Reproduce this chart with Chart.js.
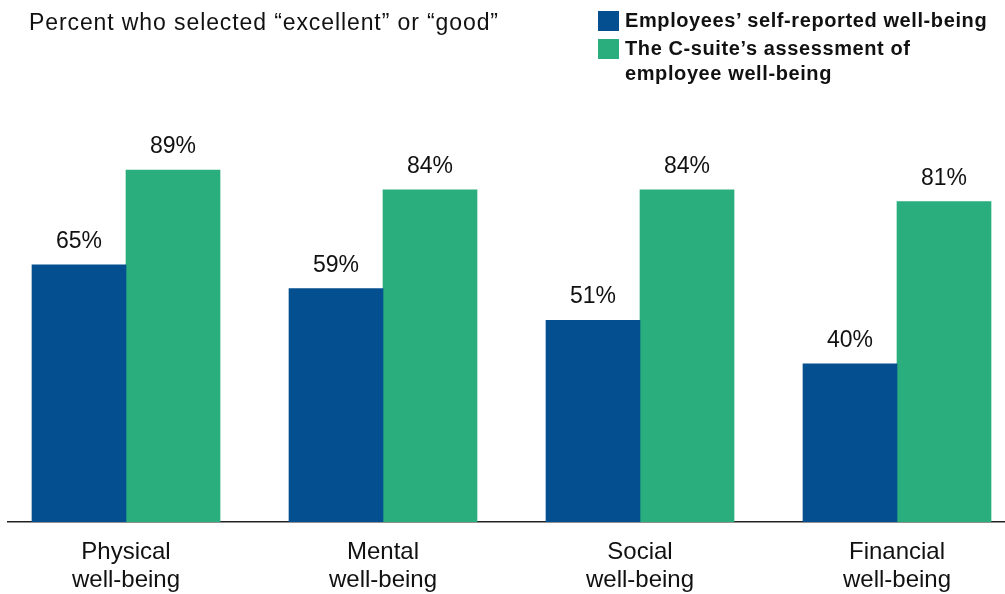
<!DOCTYPE html>
<html>
<head>
<meta charset="utf-8">
<script src="https://cdn.jsdelivr.net/npm/chart.js@4"></script>
<style>
  body { margin: 0; background: #fff; font-family: "Liberation Sans", Arial, sans-serif; }
  #wrap { position: relative; width: 1005px; height: 594px; overflow: hidden; }
  #title { position: absolute; left: 29px; top: 9px; font-size: 23px; letter-spacing: 0.9px; color: #111; white-space: nowrap; }
  #legend { position: absolute; left: 598px; top: 8px; font-size: 20px; letter-spacing: 0.6px; font-weight: bold; color: #111; line-height: 25px; }
  .item { position: relative; padding-left: 27px; margin-bottom: 3px; white-space: nowrap; }
  .sw { position: absolute; left: 0; top: 3px; width: 21px; height: 20px; }
</style>
</head>
<body>
<div id="wrap">
  <canvas id="wellbeing" width="1005" height="594"></canvas>
  <div id="title">Percent who selected “excellent” or “good”</div>
  <div id="legend"></div>
</div>
<script>
const categories = [["Physical", "well-being"], ["Mental", "well-being"], ["Social", "well-being"], ["Financial", "well-being"]];
const seriesNames = ["Employees’ self-reported well-being", "The C-suite’s assessment of\nemployee well-being"];
const employees = [65, 59, 51, 40];
const csuite = [89, 84, 84, 81];
const colors = ['#034f8f', '#2aae7d'];

// html legend
const legendBox = document.getElementById('legend');
seriesNames.forEach((name, i) => {
  const div = document.createElement('div');
  div.className = 'item';
  div.innerHTML = '<span class="sw" style="background:' + colors[i] + '"></span>' + name.replace('\n', '<br>');
  legendBox.appendChild(div);
});

const valueLabels = {
  id: 'valueLabels',
  afterDatasetsDraw(chart) {
    const ctx = chart.ctx;
    ctx.save();
    ctx.font = '23px "Liberation Sans", Arial, sans-serif';
    ctx.fillStyle = '#111';
    ctx.textAlign = 'center';
    ctx.textBaseline = 'alphabetic';
    chart.data.datasets.forEach((ds, i) => {
      chart.getDatasetMeta(i).data.forEach((bar, j) => {
        ctx.fillText(ds.data[j].y + '%', bar.x, bar.y - 17);
      });
    });
    ctx.restore();
  }
};

const ctx = document.getElementById('wellbeing').getContext('2d');

const chart = new Chart(ctx, {
  type: 'bar',
  data: {
    datasets: [{
      label: seriesNames[0],
      data: employees.map((v, i) => ({ x: i, y: v })),
      backgroundColor: colors[0],
      barThickness: 94
    }, {
      label: seriesNames[1],
      data: csuite.map((v, i) => ({ x: i, y: v })),
      backgroundColor: colors[1],
      barThickness: 94
    }]
  },
  options: {
    responsive: false,
    animation: false,
    layout: {
      padding: { left: 8, right: 0, top: 126.5, bottom: 0 }
    },
    scales: {
      x: {
        type: 'linear',
        offset: false,
        min: -118 / 257,
        max: 3 + 108 / 257,
        grid: { display: false, drawTicks: false, offset: false },
        border: { display: true, color: '#222', width: 1.5 },
        afterBuildTicks: (scale) => {
          scale.ticks = categories.map((c, i) => ({ value: i }));
        },
        afterFit: (scale) => { scale.height = 72; },
        ticks: {
          padding: 16,
          autoSkip: false,
          maxRotation: 0,
          color: '#111',
          font: { family: '"Liberation Sans", Arial, sans-serif', size: 24, lineHeight: 1.17 },
          callback: (v) => categories[v]
        }
      },
      y: {
        display: false,
        min: 0,
        max: 100
      }
    },
    plugins: {
      legend: { display: false },
      tooltip: { enabled: false }
    }
  },
  plugins: [valueLabels]
});
</script>
</body>
</html>
